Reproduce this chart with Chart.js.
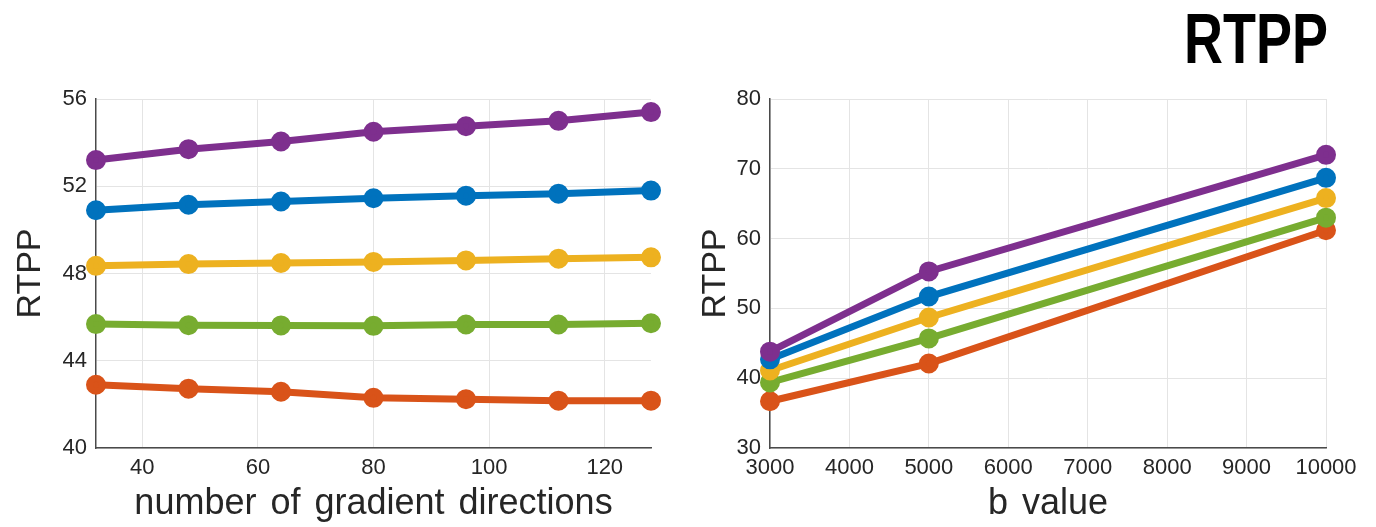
<!DOCTYPE html>
<html>
<head>
<meta charset="utf-8">
<script src="https://cdn.jsdelivr.net/npm/chart.js@4.4.1/dist/chart.umd.min.js"></script>
<style>
  html, body { margin: 0; padding: 0; background: #fff; }
  .box { position: absolute; top: 0; height: 527px; }
  #leftBox { left: 0; width: 680px; }
  #rightBox { left: 690px; width: 686px; }
</style>
</head>
<body>
<div class="box" id="leftBox"><canvas id="leftChart"></canvas></div>
<div class="box" id="rightBox"><canvas id="rightChart"></canvas></div>
<script>
/* --------------- Data --------------------- */
const directions = [32, 48, 64, 80, 96, 112, 128];
const dirPurple = [53.2, 53.7, 54.05, 54.5, 54.75, 55.0, 55.4];
const dirBlue   = [50.9, 51.15, 51.3, 51.45, 51.57, 51.66, 51.8];
const dirYellow = [48.35, 48.43, 48.48, 48.53, 48.6, 48.68, 48.74];
const dirGreen  = [45.68, 45.63, 45.62, 45.6, 45.66, 45.66, 45.72];
const dirOrange = [42.9, 42.72, 42.58, 42.3, 42.24, 42.17, 42.17];

const bValues = [3000, 5000, 10000];
const bPurple = [43.8, 55.3, 72.0];
const bBlue   = [42.7, 51.7, 68.7];
const bYellow = [41.1, 48.7, 65.8];
const bGreen  = [39.4, 45.7, 63.0];
const bOrange = [36.7, 42.1, 61.2];

const dirTicks = [40, 60, 80, 100, 120];
const rtppTicksLeft = [40, 44, 48, 52, 56];
const bTicks = [3000, 4000, 5000, 6000, 7000, 8000, 9000, 10000];
const rtppTicksRight = [30, 40, 50, 60, 70, 80];

/* --------------- Colors --------------------- */
const colors = {
    purple: "#7e2f8e",
    blue: "#0072bd",
    yellow: "#edb120",
    green: "#77ac30",
    orange: "#d95319",
};

const FONT = "'Liberation Sans', Arial, Helvetica, sans-serif";

const makeSet = (xs, ys, color) => ({
    data: xs.map((x, i) => ({ x: x, y: ys[i] })),
    borderColor: color,
    backgroundColor: color,
    borderWidth: 7,
    pointRadius: 6.5,
    pointHoverRadius: 6.5,
    pointStyle: "circle",
    tension: 0,
    clip: false,
});

const axisOptions = (min, max, ticks, title, yWidth, titlePad, isY) => ({
    type: "linear",
    min: min,
    max: max,
    afterBuildTicks: (axis) => { axis.ticks = ticks.map(v => ({ value: v })); },
    afterFit: (axis) => {
        if (isY) axis.width = yWidth; else axis.height = 79;
    },
    grid: {
        color: "#e4e4e4",
        lineWidth: 1,
        drawTicks: false,
    },
    border: { color: "#4a4a4a", width: 1.5 },
    ticks: {
        color: "#262626",
        font: { family: FONT, size: 22 },
        padding: isY ? 9 : 7,
        maxRotation: 0,
        autoSkip: false,
        callback: (v) => String(v),
    },
    title: {
        display: true,
        text: title,
        color: "#262626",
        font: { family: FONT, size: isY ? 34 : 36 },
        padding: isY ? { top: titlePad, bottom: 0 } : { top: 0, bottom: 1 },
    },
});

/* --------------- Slightly wider word gaps, like the original figure --------------------- */
const wordGap = {
    id: "wordGap",
    beforeDraw: (chart) => { chart.ctx.wordSpacing = "4px"; },
};

/* --------------- Big condensed panel title --------------------- */
const panelTitle = {
    id: "panelTitle",
    afterDraw: (chart, args, opts) => {
        if (!opts.text) return;
        const ctx = chart.ctx;
        ctx.save();
        ctx.font = "bold 71px 'Liberation Sans', Arial, sans-serif";
        ctx.fillStyle = "#000";
        ctx.textBaseline = "alphabetic";
        ctx.textAlign = "right";
        ctx.translate(chart.chartArea.right + 2, 63);
        ctx.scale(0.76, 1);
        ctx.fillText(opts.text, 0, 0);
        ctx.restore();
    },
};

/* --------------- Left Chart --------------------- */
new Chart(document.getElementById("leftChart"), {
    type: "line",
    plugins: [wordGap],
    data: {
        datasets: [
            makeSet(directions, dirPurple, colors.purple),
            makeSet(directions, dirBlue, colors.blue),
            makeSet(directions, dirYellow, colors.yellow),
            makeSet(directions, dirGreen, colors.green),
            makeSet(directions, dirOrange, colors.orange),
        ],
    },
    options: {
        responsive: true,
        maintainAspectRatio: false,
        animation: false,
        layout: { padding: { top: 99, right: 29, left: 0, bottom: 0 } },
        plugins: { legend: { display: false }, tooltip: { enabled: false } },
        scales: {
            x: axisOptions(32, 128, dirTicks, "number of gradient directions", 0, 0, false),
            y: axisOptions(40, 56, rtppTicksLeft, "RTPP", 96, 10, true),
        },
    },
});

/* --------------- Right Chart --------------------- */
new Chart(document.getElementById("rightChart"), {
    type: "line",
    plugins: [wordGap, panelTitle],
    data: {
        datasets: [
            makeSet(bValues, bPurple, colors.purple),
            makeSet(bValues, bBlue, colors.blue),
            makeSet(bValues, bYellow, colors.yellow),
            makeSet(bValues, bGreen, colors.green),
            makeSet(bValues, bOrange, colors.orange),
        ],
    },
    options: {
        responsive: true,
        maintainAspectRatio: false,
        animation: false,
        layout: { padding: { top: 99, right: 50, left: 0, bottom: 0 } },
        plugins: {
            legend: { display: false },
            tooltip: { enabled: false },
            panelTitle: { text: "RTPP" },
        },
        scales: {
            x: axisOptions(3000, 10000, bTicks, "b value", 0, 0, false),
            y: axisOptions(30, 80, rtppTicksRight, "RTPP", 80, 5, true),
        },
    },
});
</script>
</body>
</html>
